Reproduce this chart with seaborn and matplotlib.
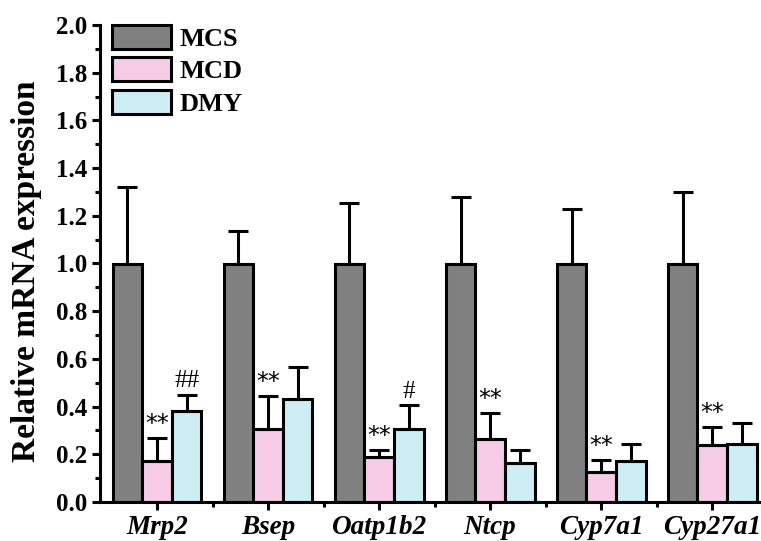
import numpy as np
import pandas as pd
import matplotlib
matplotlib.use("Agg")
import matplotlib.pyplot as plt
import seaborn as sns
from matplotlib.ticker import MultipleLocator, FixedLocator

genes = ["Mrp2", "Bsep", "Oatp1b2", "Ntcp", "Cyp7a1", "Cyp27a1"]
groups = ["MCS", "MCD", "DMY"]
mcs_mean = [1.0, 1.0, 1.0, 1.0, 1.0, 1.0]
mcs_err = [0.32, 0.135, 0.255, 0.28, 0.23, 0.30]
mcd_mean = [0.17, 0.305, 0.19, 0.265, 0.125, 0.24]
mcd_err = [0.10, 0.14, 0.03, 0.11, 0.05, 0.075]
dmy_mean = [0.38, 0.43, 0.305, 0.165, 0.17, 0.245]
dmy_err = [0.07, 0.135, 0.10, 0.055, 0.075, 0.085]
mcd_marks = ["**", "**", "**", "**", "**", "**"]
dmy_marks = ["##", "", "#", "", "", ""]
colors = ["#808080", "#f5cbe5", "#cdedf5"]

sns.set_theme(style="ticks")
plt.rcParams["font.family"] = ["Liberation Serif", "DejaVu Serif"]
for k in ["text.color", "axes.labelcolor", "xtick.color", "ytick.color",
          "axes.edgecolor"]:
    plt.rcParams[k] = "black"

rows = []
for g, means in zip(groups, [mcs_mean, mcd_mean, dmy_mean]):
    for gene, m in zip(genes, means):
        rows.append({"gene": gene, "group": g, "value": m})
df = pd.DataFrame(rows)

fig = plt.figure(figsize=(7.61, 5.41), dpi=100)
ax = fig.add_axes([100 / 761, 39 / 541, 661 / 761, 477 / 541])

LW = 2.2
sns.barplot(data=df, x="gene", y="value", hue="group", order=genes,
            hue_order=groups, palette=colors, errorbar=None, width=0.8,
            edgecolor="black", linewidth=LW, saturation=1, ax=ax)

errs = [mcs_err, mcd_err, dmy_err]
bar_containers = list(ax.containers)[:3]
for ci, cont in enumerate(bar_containers):
    xs = [p.get_x() + p.get_width() / 2 for p in cont.patches]
    hs = [p.get_height() for p in cont.patches]
    ax.errorbar(xs, hs, yerr=[np.zeros(len(hs)), errs[ci]], fmt="none",
                ecolor="black", elinewidth=LW, capsize=7.5, capthick=LW,
                zorder=1)
    if ci == 1:
        for x, h, e, t in zip(xs, hs, errs[ci], mcd_marks):
            if t:
                ax.text(x, h + e + 0.008, t, ha="center", va="bottom",
                        fontsize=17, family=["DejaVu Sans"])
    if ci == 2:
        for x, h, e, t in zip(xs, hs, errs[ci], dmy_marks):
            if t:
                ax.text(x, h + e + 0.012, t, ha="center", va="bottom",
                        fontsize=18, family=["Liberation Serif"])

ax.set_ylim(0, 2.0)
ax.set_xlim(-0.514, 5.44)
ax.yaxis.set_major_locator(MultipleLocator(0.2))
ax.yaxis.set_minor_locator(MultipleLocator(0.1))
ax.yaxis.set_major_formatter(matplotlib.ticker.FormatStrFormatter("%.1f"))
ax.xaxis.set_minor_locator(FixedLocator([0.5, 1.5, 2.5, 3.5, 4.5]))

for s in ["top", "right"]:
    ax.spines[s].set_visible(False)
for s in ["left", "bottom"]:
    ax.spines[s].set_linewidth(LW)
    ax.spines[s].set_color("black")

ax.tick_params(axis="both", which="major", direction="out", length=6, width=LW,
               colors="black")
ax.tick_params(axis="both", which="minor", direction="out", length=3.6, width=LW,
               colors="black")
ax.tick_params(axis="y", labelsize=18, pad=3)
ax.tick_params(axis="x", labelsize=19.5, pad=3)
for lab in ax.get_yticklabels():
    lab.set_fontweight("bold")
for lab in ax.get_xticklabels():
    lab.set_fontweight("bold")
    lab.set_fontstyle("italic")

ax.set_xlabel("")
ax.set_ylabel("Relative mRNA expression", fontsize=24, fontweight="bold")
ax.yaxis.set_label_coords(-0.088, 0.483)

ax.legend(title=None, loc="upper left", frameon=False,
          bbox_to_anchor=(12 / 661, 1.0), prop={"weight": "bold", "size": 19},
          handlelength=2.25, handleheight=1.0, handletextpad=0.3,
          labelspacing=0.25, borderaxespad=0, borderpad=0)

fig.savefig("out.png", dpi=100)
